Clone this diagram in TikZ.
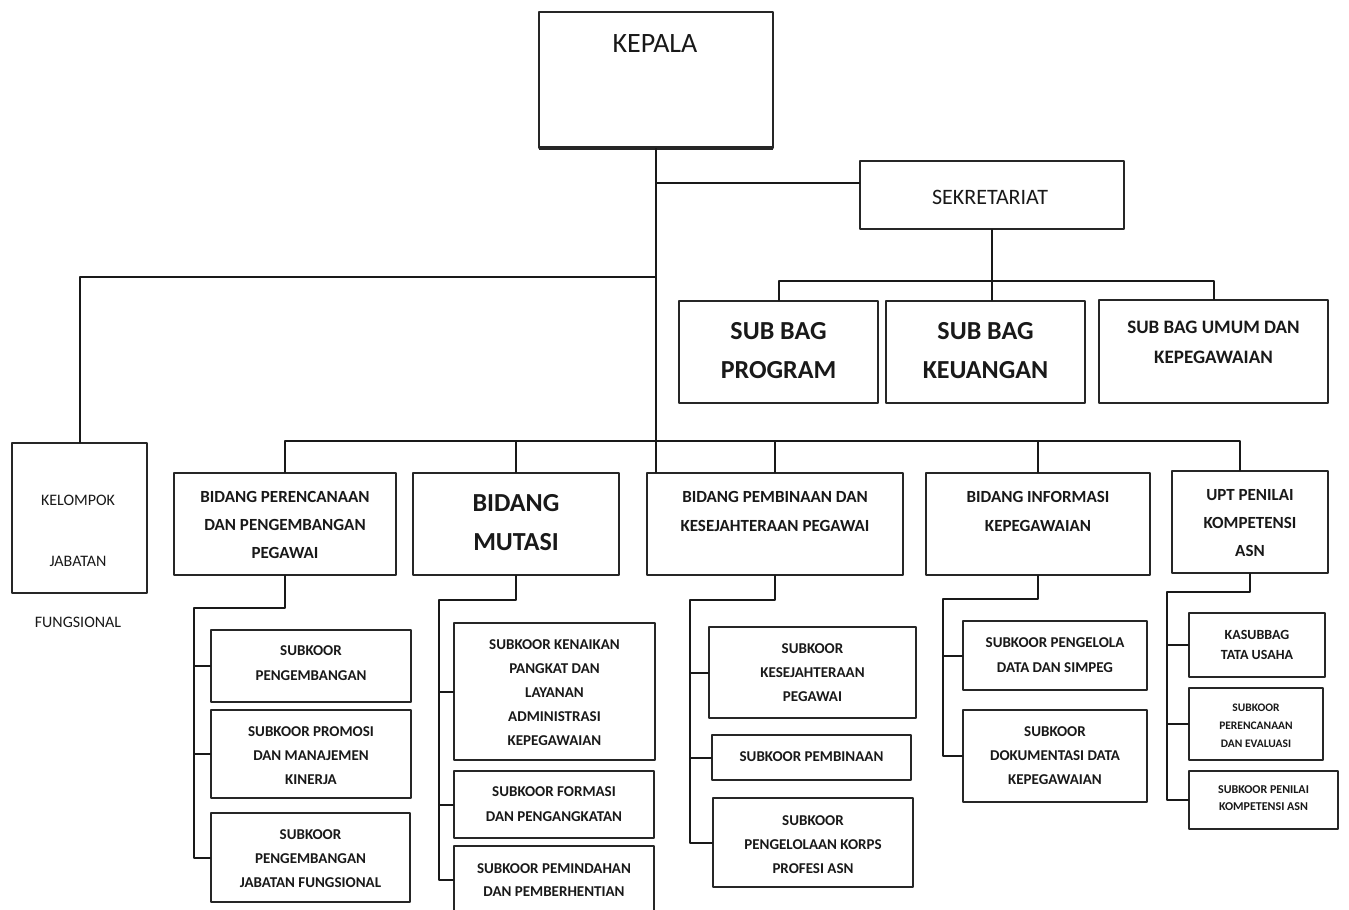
\documentclass[tikz,border=0pt]{standalone}
\usepackage{fontspec}
\setmainfont{Carlito}
\begin{document}
\begin{tikzpicture}[line join=round,x=1pt,y=-1pt,
  box/.style={draw=black!85,line width=2.2pt,inner sep=0pt,outer sep=0pt,rectangle},
  link/.style={draw=black!90,line width=2pt},
  txt/.style={align=center,inner sep=0pt,text=black!90}]
\useasboundingbox[fill=white] (0,0) rectangle (1349,910);
% top: kepala, sekretariat, kelompok jabatan fungsional
\node[box,minimum width=234,minimum height=136] (kepala) at (656,80) {};
\draw[line width=4pt,black!85] (kepala.south west)--(kepala.south east);
\node[txt,font=\fontsize{28}{34}\selectfont] (kepala-t) at (655,44) {KEPALA};
\node[box,minimum width=264,minimum height=68] (sekre) at (992,195) {};
\node[txt,font=\fontsize{22}{26}\selectfont] (sekre-t) at (990,197) {SEKRETARIAT};
\node[box,minimum width=135,minimum height=150] (kel) at (79.5,518) {};
\node[txt,font=\fontsize{16}{61}\selectfont] (kel-t) at (78,561) {KELOMPOK\\JABATAN\\FUNGSIONAL};
% boxes with bold text: name/x1/y1/x2/y2/text y/size/skip/text
\foreach \n/\xa/\ya/\xb/\yb/\ty/\fa/\fb/\t in {
  sbp/679/301/878/403/350.5/26/39/{SUB BAG\\PROGRAM},
  sbk/886/301/1085/403/350.5/26/39/{SUB BAG\\KEUANGAN},
  sbu/1099/300/1328/403/342/19/30/{SUB BAG UMUM DAN\\KEPEGAWAIAN},
  bper/174/473/396/575/524.5/17/28/{BIDANG PERENCANAAN\\DAN PENGEMBANGAN\\PEGAWAI},
  bmut/413/473/619/575/522.5/26/39/{BIDANG\\MUTASI},
  bpem/647/473/903/575/511.5/17/29/{BIDANG PEMBINAAN DAN\\KESEJAHTERAAN PEGAWAI},
  binf/926/473/1150/575/511.5/17/29/{BIDANG INFORMASI\\KEPEGAWAIAN},
  bupt/1172/471/1328/573/523/17/28/{UPT PENILAI\\KOMPETENSI\\ASN},
  pd/211/630/411/702/663.5/15/25/{SUBKOOR\\PENGEMBANGAN},
  pp/211/710/411/798/756/15/24/{SUBKOOR PROMOSI\\DAN MANAJEMEN\\KINERJA},
  pj/211/813/410/902/859/15/24/{SUBKOOR\\PENGEMBANGAN\\JABATAN FUNGSIONAL},
  mk/454/623/655/760/693/15/24/{SUBKOOR KENAIKAN\\PANGKAT DAN\\LAYANAN\\ADMINISTRASI\\KEPEGAWAIAN},
  mf/454/771/654/838/804.5/15/25/{SUBKOOR FORMASI\\DAN PENGANGKATAN},
  mp/454/846/654/914/880.5/15/23/{SUBKOOR PEMINDAHAN\\DAN PEMBERHENTIAN},
  bk/709/627/916/718/673/15/24/{SUBKOOR\\KESEJAHTERAAN\\PEGAWAI},
  bp/712/735/911/780/757/15/24/{SUBKOOR PEMBINAAN},
  bko/713/798/913/887/845/15/24/{SUBKOOR\\PENGELOLAAN KORPS\\PROFESI ASN},
  ip/963/621/1147/690/655.5/15/25/{SUBKOOR PENGELOLA\\DATA DAN SIMPEG},
  id/963/710/1147/802/756/15/24/{SUBKOOR\\DOKUMENTASI DATA\\KEPEGAWAIAN},
  uk/1189/613/1325/677/645/14/20/{KASUBBAG\\TATA USAHA},
  ue/1189/688/1323/760/726/11.5/18/{SUBKOOR\\PERENCANAAN\\DAN EVALUASI},
  un/1189/771/1338/829/798.5/12/17/{SUBKOOR PENILAI\\KOMPETENSI ASN}}
{\node[box,minimum width=\xb-\xa,minimum height=\yb-\ya] (\n) at ({(\xa+\xb)/2},{(\ya+\yb)/2}) {};
 \node[txt,font=\bfseries\fontsize{\fa}{\fb}\selectfont] (\n-t) at ({(\xa+\xb)/2},\ty) {\t};}
% kepala to bidang and sekretariat
\draw[link] (kepala.south)--(kepala.south |- bpem.north);
\coordinate (sk) at ([yshift=12pt]sekre.west);
\draw[link] (sk)--(sk -| kepala.south);
\coordinate (kb) at (656,277);
\draw[link] (kel.north) |- (kb);
% sekretariat to sub bag
\coordinate (sb) at (992,281);
\draw[link] (sbp.north) |- (sb) -| (sbu.north);
\draw[link] (sekre.south)--(sekre.south |- sbk.north);
% bidang bus
\coordinate (bb) at (656,441);
\draw[link] (bper.north) |- (bb) -| ([xshift=-10pt]bupt.north);
\foreach \b in {bmut,bpem,binf}
  \draw[link] (\b.north)--(\b.north |- bb);
% sub-trees
\coordinate (sper) at (194,608);
\coordinate (smut) at (439,600);
\coordinate (spem) at (690,600);
\coordinate (sinf) at (943,599);
\coordinate (supt) at (1167,592);
\foreach \p/\s/\l/\o in {bper/sper/pj/{pd,pp},bmut/smut/mp/{mk,mf},bpem/spem/bko/{bk,bp},binf/sinf/id/{ip},bupt/supt/un/{uk,ue}}{
  \draw[link] (\p.south) |- (\s) |- (\l.west);
  \foreach \c in \o
    \draw[link] (\s |- \c.west)--(\c.west);
}
\end{tikzpicture}
\end{document}
